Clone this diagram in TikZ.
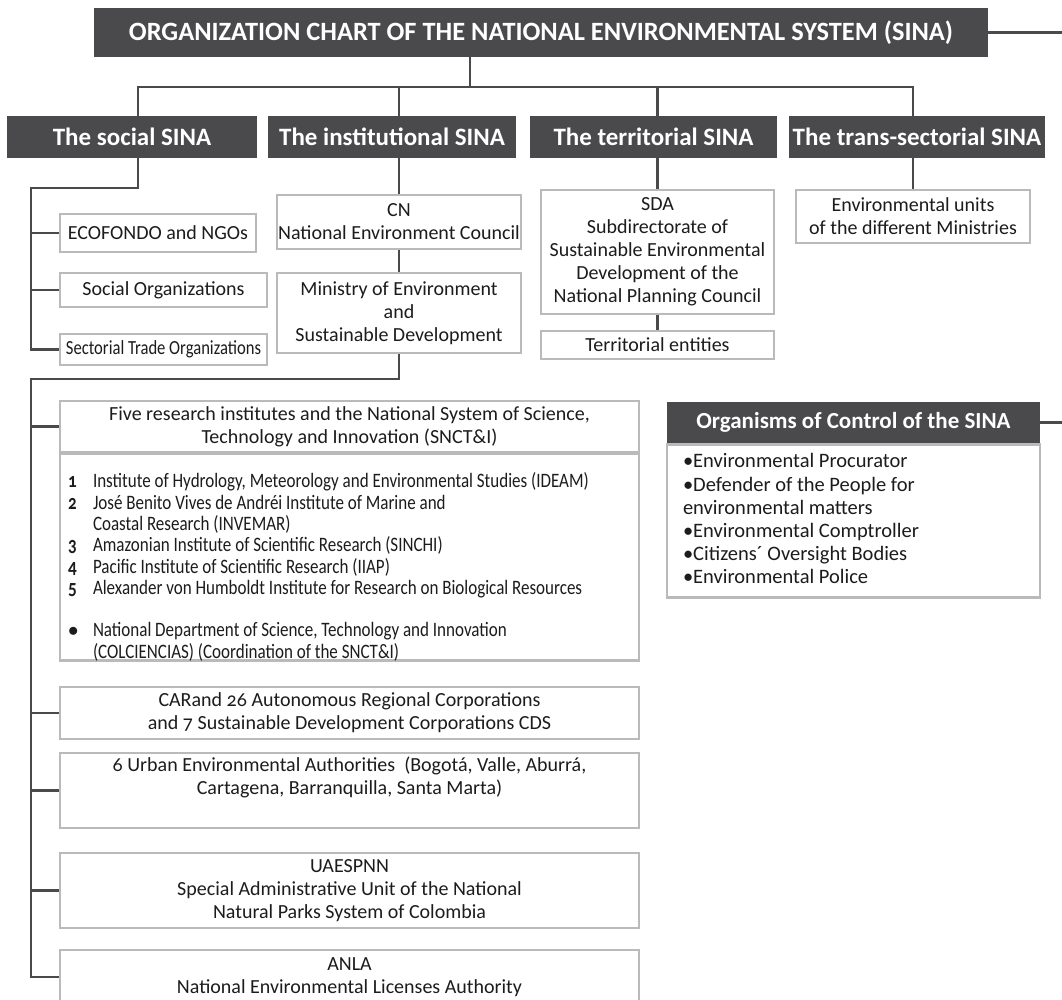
\documentclass[tikz,border=0pt]{standalone}
\usepackage{fontspec}
\setmainfont{Carlito}[Numbers=OldStyle]
\newfontfamily\narrowfont{Carlito}[FakeStretch=0.83, Numbers=OldStyle]
\definecolor{chartdark}{RGB}{74,74,76}
\definecolor{boxgray}{RGB}{184,186,188}
\definecolor{inkgray}{RGB}{28,28,28}

\begin{document}
\begin{tikzpicture}[x=1pt, y=-1pt,
    head/.style={fill=chartdark, text=white, inner sep=0pt, font=\bfseries\fontsize{25}{30}\selectfont},
    unit/.style={draw=boxgray, line width=2.6pt, fill=white, inner sep=0pt, align=center, text=inkgray, font=\fontsize{20}{23}\selectfont},
    link/.style={draw=chartdark, line width=2.9pt}]
    \useasboundingbox (0,0) rectangle (1062,999);
    \clip (0,0) rectangle (1062,999);
    \fill[white] (0,0) rectangle (1062,999);

    \node[head, minimum width=894pt, minimum height=49pt, font=\bfseries\fontsize{26.4}{30}\selectfont] (sina) at (541,32.5) {ORGANIZATION CHART OF THE NATIONAL ENVIRONMENTAL SYSTEM (SINA)\hspace{40pt}};
    \node[head, minimum width=250pt, minimum height=42pt] (social) at (132,137) {The social SINA};
    \node[head, minimum width=248pt, minimum height=42pt] (institutional) at (392,137) {The institutional SINA};
    \node[head, minimum width=247pt, minimum height=42pt] (territorial) at (653.5,137) {The territorial SINA};
    \node[head, minimum width=256pt, minimum height=42pt] (transsectorial) at (917,137) {The trans-sectorial SINA};

    \node[unit, minimum width=196pt, minimum height=38pt] (ecofondo) at (158,233) {ECOFONDO and NGOs};
    \node[unit, minimum width=207pt, minimum height=34pt] (socialorg) at (163.5,290) {Social Organizations};
    \node[unit, minimum width=207pt, minimum height=31pt, font=\narrowfont\fontsize{20}{23}\selectfont] (sectorial) at (163.5,349.5) {Sectorial Trade Organizations};

    \node[unit, minimum width=244pt, minimum height=54pt] (cn) at (399,222) {CN\\National Environment Council};
    \node[unit, minimum width=244pt, minimum height=80pt] (ministry) at (399,313) {Ministry of Environment\\and\\Sustainable Development};

    \node[unit, minimum width=233pt, minimum height=124pt] (sda) at (657.5,252) {SDA\\Subdirectorate of\\Sustainable Environmental\\Development of the\\National Planning Council};
    \node[unit, minimum width=233pt, minimum height=28pt] (territorialent) at (657.5,345) {Territorial entities};

    \node[unit, minimum width=234pt, minimum height=53pt] (envunits) at (913,216.5) {Environmental units\\of the different Ministries};

    \node[unit, minimum width=579pt, minimum height=51pt] (fivetop) at (349.5,426.5) {Five research institutes and the National System of Science,\\Technology and Innovation (SNCT\&I)};
    \node[unit, anchor=north, minimum width=579pt, inner xsep=8pt, text height=34.5pt, text depth=172.5pt, font=\narrowfont\fontsize{20.5}{21.25}\selectfont] (fivelist) at (349.5,452) {\makebox[563pt][l]{\begin{tabular}[t]{@{}p{25pt}@{}l@{}}
        \textbf{1} & Institute of Hydrology, Meteorology and Environmental Studies (IDEAM)\\
        \textbf{2} & José Benito Vives de Andréi Institute of Marine and\\
         & Coastal Research (INVEMAR)\\
        \textbf{3} & Amazonian Institute of Scientific Research (SINCHI)\\
        \textbf{4} & Pacific Institute of Scientific Research (IIAP)\\
        \textbf{5} & Alexander von Humboldt Institute for Research on Biological Resources\\[21.25pt]
        $\bullet$ & National Department of Science, Technology and Innovation\\
         & (COLCIENCIAS) (Coordination of the SNCT\&I)
    \end{tabular}}};
    \node[unit, minimum width=579pt, minimum height=52pt] (car) at (349.5,713) {CARand 26 Autonomous Regional Corporations\\and 7 Sustainable Development Corporations CDS};
    \node[unit, minimum width=579pt, minimum height=75pt] (urban) at (349.5,790.5) {6 Urban Environmental Authorities\ \ (Bogotá, Valle, Aburrá,\\Cartagena, Barranquilla, Santa Marta)\\\strut};
    \node[unit, minimum width=579pt, minimum height=75pt] (uaespnn) at (349.5,890.5) {UAESPNN\\Special Administrative Unit of the National\\Natural Parks System of Colombia};
    \node[unit, minimum width=579pt, minimum height=54pt] (anla) at (349.5,977) {ANLA\\National Environmental Licenses Authority};

    \node[unit, anchor=north, minimum width=373pt, inner xsep=16pt, text height=23.5pt, text depth=129.5pt, font=\fontsize{20.5}{23.2}\selectfont] (controllist) at (853.5,443) {\makebox[341pt][l]{\begin{tabular}[t]{@{}l@{}}
        •Environmental Procurator\\
        •Defender of the People for\\
        environmental matters\\
        •Environmental Comptroller\\
        •Citizens´ Oversight Bodies\\
        •Environmental Police
    \end{tabular}}};
    \node[head, minimum width=373pt, minimum height=41pt, font=\bfseries\fontsize{23}{27}\selectfont] (control) at (853.5,422.5) {Organisms of Control of the SINA};

    \coordinate (sinaend) at (1062,32.5);
    \coordinate (controlend) at (1062,422.5);
    \coordinate (bus) at (470,87);
    \coordinate (busleft) at (138,87);
    \coordinate (socialrail) at (31,188);
    \coordinate (lowerrail) at (31,379);

    \draw[link] (sina.east) to (sinaend);
    \draw[link] (control.east) to (controlend);
    \draw[link] (sina.south -| bus) to (bus);
    \draw[link] (busleft |- social.north) -- (busleft) -- (envunits.north |- busleft) -- (envunits.north |- transsectorial.north);
    \draw[link] (cn.north |- busleft) to (cn.north |- institutional.north);
    \draw[link] (sda.north |- busleft) to (sda.north |- territorial.north);
    \draw[link] (cn.north |- institutional.south) to (cn.north);
    \draw[link] (sda.north |- territorial.south) to (sda.north);
    \draw[link] (envunits.north |- transsectorial.south) to (envunits.north);
    \draw[link] (cn.south) to (ministry.north);
    \draw[link] (sda.south) to (territorialent.north);

    \draw[link] (busleft |- social.south) -- (busleft |- socialrail) -- (socialrail) -- (socialrail |- sectorial.west) -- (sectorial.west);
    \foreach \unitname in {ecofondo, socialorg}
        \draw[link] (socialrail |- \unitname.west) to (\unitname.west);

    \draw[link] (ministry.south) -- (ministry.south |- lowerrail) -- (lowerrail) -- (lowerrail |- anla.west) -- (anla.west);
    \foreach \unitname in {fivetop, car, urban, uaespnn}
        \draw[link] (lowerrail |- \unitname.west) to (\unitname.west);
\end{tikzpicture}
\end{document}
